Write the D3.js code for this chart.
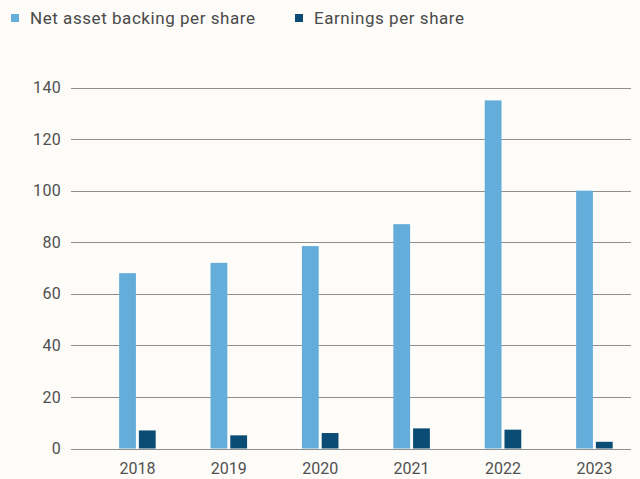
<!DOCTYPE html>
<html>
<head>
<meta charset="utf-8">
<script src="https://cdn.jsdelivr.net/npm/d3@7"></script>
<style>
  html, body { margin: 0; padding: 0; background: #fdfcf8; }
  svg { display: block; }
  text { font-family: Roboto, "Noto Sans", sans-serif; }
</style>
</head>
<body>
<svg id="chart" width="640" height="479"></svg>
<script>
// Per-share figures by financial year
const years = ["2018", "2019", "2020", "2021", "2022", "2023"];
const netAssetBacking = [68, 72, 78.5, 87, 135, 100];
const earnings = [7, 5.1, 6, 7.8, 7.3, 2.6];
const seriesNames = ["Net asset backing per share", "Earnings per share"];
const seriesColors = ["#64addb", "#0b4c75"];
const yTicks = [0, 20, 40, 60, 80, 100, 120, 140];

const rows = years.map((y, i) => ({ year: y, values: [netAssetBacking[i], earnings[i]] }));

const svg = d3.select("#chart");
const gridLeft = 71, gridRight = 631;
const yTop = 87.5, yBottom = 448.5;

const y = d3.scaleLinear().domain([0, 140]).range([yBottom, yTop]);

const x = d3.scaleBand()
  .domain(years)
  .range([91.7, 640.1])
  .paddingInner(0.6)
  .paddingOuter(0.3);

const xSub = d3.scaleBand()
  .domain([0, 1])
  .range([0, x.bandwidth()])
  .paddingInner(0.15);

// Horizontal gridlines
svg.append("g")
  .selectAll("line")
  .data(yTicks)
  .join("line")
  .attr("x1", gridLeft)
  .attr("x2", gridRight)
  .attr("y1", d => Math.round(y(d)) + 0.5)
  .attr("y2", d => Math.round(y(d)) + 0.5)
  .attr("stroke", "#8e8e8e")
  .attr("stroke-width", 1);

// Y axis labels
const yAxis = d3.axisLeft(y).tickValues(yTicks).tickSize(0).tickPadding(0);
svg.append("g")
  .attr("transform", `translate(61,0)`)
  .call(yAxis)
  .call(g => g.select(".domain").remove())
  .call(g => g.selectAll("text")
    .attr("font-size", 16)
    .attr("letter-spacing", 0.3)
    .attr("fill", "#505050")
    .attr("font-family", "Roboto, sans-serif"));

// Bars
const groups = svg.append("g")
  .selectAll("g")
  .data(rows)
  .join("g")
  .attr("transform", d => `translate(${x(d.year)},0)`);

groups.selectAll("rect")
  .data(d => d.values.map((v, k) => ({ v, k })))
  .join("rect")
  .attr("x", d => xSub(d.k))
  .attr("width", xSub.bandwidth())
  .attr("y", d => y(d.v))
  .attr("height", d => y(0) - y(d.v))
  .attr("fill", d => seriesColors[d.k]);

// X axis labels
const xAxis = d3.axisBottom(x).tickSize(0).tickPadding(0);
svg.append("g")
  .attr("transform", `translate(0,${yBottom + 14})`)
  .call(xAxis)
  .call(g => g.select(".domain").remove())
  .call(g => g.selectAll("text")
    .attr("font-size", 16)
    .attr("fill", "#505050")
    .attr("font-family", "Roboto, sans-serif"));

// Legend
const legendX = [11, 295];
const legend = svg.append("g")
  .selectAll("g")
  .data(seriesNames)
  .join("g")
  .attr("transform", (d, i) => `translate(${legendX[i]},0)`);

legend.append("rect")
  .attr("x", 0)
  .attr("y", 14)
  .attr("width", 8)
  .attr("height", 8)
  .attr("fill", (d, i) => seriesColors[i]);

legend.append("text")
  .attr("x", 19)
  .attr("y", 23.5)
  .attr("font-size", 17)
  .attr("letter-spacing", 0.55)
  .attr("fill", "#4a4a4a")
  .text(d => d);
</script>
</body>
</html>
